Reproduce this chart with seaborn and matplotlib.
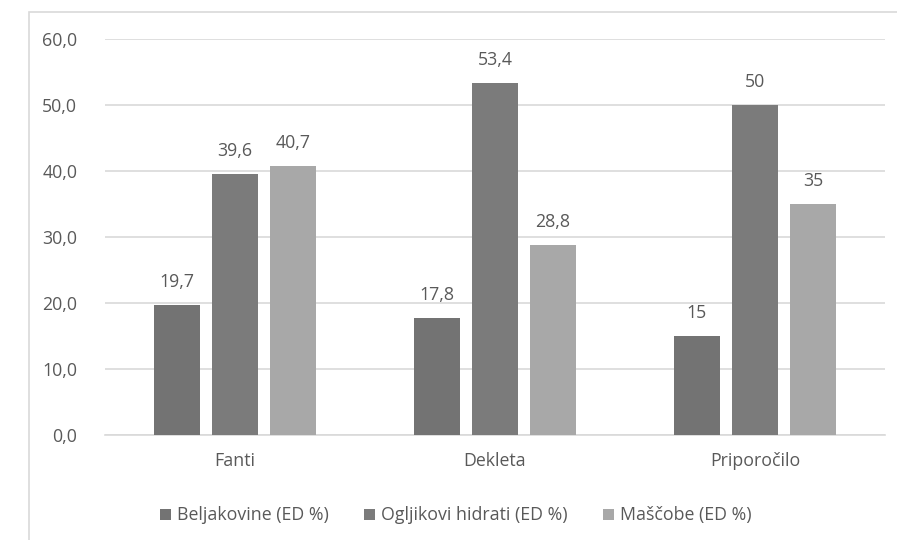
import matplotlib
matplotlib.use("Agg")
import matplotlib.pyplot as plt
import seaborn as sns
import pandas as pd
from matplotlib.patches import Rectangle

groups = ["Fanti", "Dekleta", "Priporočilo"]
series = ["Beljakovine (ED %)", "Ogljikovi hidrati (ED %)", "Maščobe (ED %)"]
beljakovine = [19.7, 17.8, 15]
ogljikovi = [39.6, 53.4, 50]
mascobe = [40.7, 28.8, 35]
labels_beljakovine = ["19,7", "17,8", "15"]
labels_ogljikovi = ["39,6", "53,4", "50"]
labels_mascobe = ["40,7", "28,8", "35"]
y_ticks = [0, 10, 20, 30, 40, 50, 60]
y_tick_labels = ["0,0", "10,0", "20,0", "30,0", "40,0", "50,0", "60,0"]
colors = ["#737373", "#7b7b7b", "#a8a8a8"]

rows = []
for s, vals, labs in zip(series,
                         [beljakovine, ogljikovi, mascobe],
                         [labels_beljakovine, labels_ogljikovi, labels_mascobe]):
    for g, v, l in zip(groups, vals, labs):
        rows.append({"Skupina": g, "Hranilo": s, "ED": v, "Oznaka": l})
df = pd.DataFrame(rows)

sns.set_theme(style="white")
plt.rcParams["font.family"] = ["Open Sans", "DejaVu Sans"]
text_color = "#595959"
fs = 12.8

fig = plt.figure(figsize=(8.97, 5.40), dpi=100)
fig.patch.set_facecolor("white")
# chart area frame
fig.patches.append(Rectangle((29 / 897, -0.1), 1.2, 1 - 12 / 540 + 0.1,
                             transform=fig.transFigure, fill=False,
                             edgecolor="#d9d9d9", linewidth=1.2, zorder=0))

ax = fig.add_axes([105 / 897, 1 - 435 / 540, 780 / 897, 396 / 540])
sns.barplot(data=df, x="Skupina", y="ED", hue="Hranilo", order=groups,
            hue_order=series, palette=colors, width=0.67, gap=0.22,
            saturation=1, errorbar=None, ax=ax, legend=True, zorder=3,
            linewidth=0)

ax.set_ylim(0, 60)
ax.set_yticks(y_ticks)
ax.set_yticklabels(y_tick_labels)
ax.yaxis.grid(True, color="#d9d9d9", linewidth=1.2, zorder=0)
ax.set_axisbelow(True)
for sp in ["left", "right", "top"]:
    ax.spines[sp].set_visible(False)
ax.spines["bottom"].set_color("#d9d9d9")
ax.spines["bottom"].set_linewidth(1.2)
ax.tick_params(axis="y", length=0, pad=20, labelsize=fs, labelcolor=text_color)
ax.tick_params(axis="x", length=0, pad=12, labelsize=fs, labelcolor=text_color)
ax.set_xlabel("")
ax.set_ylabel("")

for container, s in zip(ax.containers, series):
    labs = df[df["Hranilo"] == s].set_index("Skupina").loc[groups, "Oznaka"].tolist()
    ax.bar_label(container, labels=labs, padding=10, fontsize=fs, color=text_color)

leg = ax.legend(loc="upper center", bbox_to_anchor=(0.45, -0.14), ncol=3,
                frameon=False, fontsize=fs, handlelength=0.6, handleheight=0.6,
                handletextpad=0.35, columnspacing=2.0)
for t in leg.get_texts():
    t.set_color(text_color)

fig.savefig("out.png", dpi=100, facecolor="white")
